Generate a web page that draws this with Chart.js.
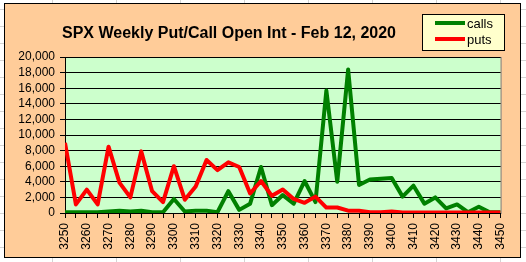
<!DOCTYPE html>
<html>
<head>
<meta charset="utf-8">
<script src="https://cdn.jsdelivr.net/npm/chart.js@4"></script>
<style>
    html, body { margin: 0; padding: 0; }
    body {
        width: 526px;
        height: 262px;
        background-color: #fff;
        background-image: linear-gradient(to right, #d4d4d4 1px, transparent 1px),
                          linear-gradient(to bottom, #d4d4d4 1px, transparent 1px);
        background-size: 64px 17px;
        background-position: 52px 9px;
        overflow: hidden;
    }
    #chart-box {
        position: absolute;
        left: 4px;
        top: 3px;
        width: 515px;
        height: 253px;
        border: 1px solid #000;
        background: #FFCC99;
    }
</style>
</head>
<body>
<div id="chart-box"><canvas id="chart"></canvas></div>
<script>
// Strikes del eje X (cada 5 puntos)
const strikes = [
    3250, 3255, 3260, 3265, 3270, 3275, 3280, 3285, 3290, 3295,
    3300, 3305, 3310, 3315, 3320, 3325, 3330, 3335, 3340, 3345,
    3350, 3355, 3360, 3365, 3370, 3375, 3380, 3385, 3390, 3395,
    3400, 3405, 3410, 3415, 3420, 3425, 3430, 3435, 3440, 3445, 3450
];

// Open interest de calls
const calls = [
    100, 100, 100, 100, 200, 300, 200, 300, 100, 100,
    1800, 200, 300, 300, 100, 2800, 400, 1200, 5900, 1000,
    2300, 1200, 4100, 1400, 15700, 4000, 18400, 3600, 4300, 4400,
    4500, 2100, 3500, 1200, 2000, 600, 1100, 100, 800, 100, 100
];

// Open interest de puts
const puts = [
    9000, 1100, 3000, 1100, 8500, 3900, 2000, 7900, 2800, 1400,
    6000, 1700, 3400, 6800, 5500, 6500, 5900, 2500, 4100, 2200,
    3000, 1800, 1300, 2100, 700, 700, 300, 300, 100, 100,
    200, 50, 50, 50, 50, 50, 50, 50, 50, 50, 50
];

const chartTitle = 'SPX Weekly Put/Call Open Int - Feb 12, 2020';
const yTicks = { min: 0, max: 20000, step: 2000 };
const xTicks = { min: 3250, max: 3450, step: 5, labelEvery: 10 };

const FONT = '"Liberation Sans", Arial, sans-serif';

// Fondo verde del área de trazado y borde gris
const plotBackground = {
    id: 'plotBackground',
    beforeDraw(chart) {
        const { ctx, chartArea: a } = chart;
        ctx.save();
        ctx.fillStyle = '#CCFFCC';
        ctx.fillRect(a.left, a.top, a.right - a.left, a.bottom - a.top);
        ctx.strokeStyle = '#808080';
        ctx.lineWidth = 1;
        ctx.strokeRect(a.left + 0.5, a.top + 0.5, a.right - a.left, a.bottom - a.top);
        ctx.restore();
    }
};

// Título y leyenda al estilo Excel
const titleAndLegend = {
    id: 'titleAndLegend',
    afterDraw(chart) {
        const ctx = chart.ctx;
        ctx.save();
        ctx.fillStyle = '#000';
        ctx.font = 'bold 16px ' + FONT;
        ctx.textAlign = 'center';
        ctx.textBaseline = 'middle';
        ctx.fillText(chartTitle, 224, 30);

        // caja de leyenda
        ctx.fillStyle = '#FFFFCC';
        ctx.fillRect(417, 10, 82, 36);
        ctx.strokeStyle = '#000';
        ctx.lineWidth = 1;
        ctx.strokeRect(417.5, 10.5, 82, 36);

        ctx.font = '13px ' + FONT;
        ctx.textAlign = 'left';
        chart.data.datasets.forEach((ds, i) => {
            const y = 19 + i * 16;
            ctx.strokeStyle = ds.borderColor;
            ctx.lineWidth = 4;
            ctx.beginPath();
            ctx.moveTo(430, y);
            ctx.lineTo(460, y);
            ctx.stroke();
            ctx.fillStyle = '#000';
            ctx.fillText(ds.label, 462, y + 1);
        });
        ctx.restore();
    }
};

new Chart(document.getElementById('chart'), {
    type: 'line',
    data: {
        datasets: [
            {
                label: 'calls',
                data: strikes.map((s, i) => ({ x: s, y: calls[i] })),
                borderColor: '#008000',
                borderWidth: 4,
                borderJoinStyle: 'round',
                pointRadius: 0,
                tension: 0,
                order: 2,
            },
            {
                label: 'puts',
                data: strikes.map((s, i) => ({ x: s, y: puts[i] })),
                borderColor: '#FF0000',
                borderWidth: 4,
                borderJoinStyle: 'round',
                pointRadius: 0,
                tension: 0,
                order: 1,
            },
        ],
    },
    options: {
        responsive: true,
        maintainAspectRatio: false,
        animation: false,
        layout: { padding: { top: 53, right: 15, left: 0, bottom: 0 } },
        plugins: {
            legend: { display: false },
            title: { display: false },
            tooltip: { enabled: false },
        },
        scales: {
            x: {
                type: 'linear',
                min: xTicks.min,
                max: xTicks.max,
                afterFit: (scale) => { scale.height = 44; },
                border: { color: '#000', width: 1 },
                grid: { drawOnChartArea: false, color: '#000', tickLength: 5 },
                ticks: {
                    stepSize: xTicks.step,
                    autoSkip: false,
                    maxRotation: 90,
                    minRotation: 90,
                    padding: 5,
                    color: '#000',
                    font: { family: FONT, size: 12 },
                    callback: (v) => (v % xTicks.labelEvery === 0 ? String(v) : ''),
                },
            },
            y: {
                min: yTicks.min,
                max: yTicks.max,
                afterFit: (scale) => { scale.width = 60; },
                border: { color: '#000', width: 1 },
                grid: { color: '#000', tickLength: 5 },
                ticks: {
                    stepSize: yTicks.step,
                    autoSkip: false,
                    padding: 5,
                    color: '#000',
                    font: { family: FONT, size: 12 },
                    callback: (v) => v.toLocaleString('en-US'),
                },
            },
        },
    },
    plugins: [plotBackground, titleAndLegend],
});
</script>
</body>
</html>
